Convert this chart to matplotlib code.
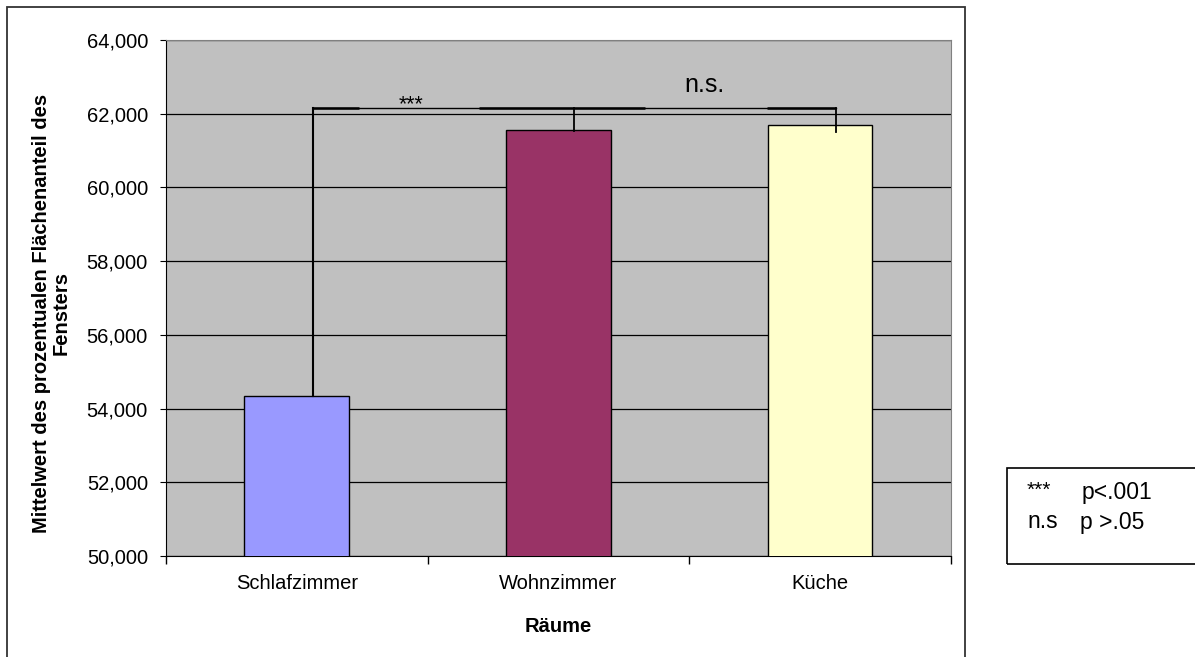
import matplotlib.pyplot as plt
from matplotlib.patches import Rectangle

plt.rcParams['font.family'] = ['Liberation Sans', 'DejaVu Sans']

# Data
rooms = ['Schlafzimmer', 'Wohnzimmer', 'Küche']
means = [54.35, 61.57, 61.70]
colors = ['#9999FF', '#993366', '#FFFFCC']
y_ticks = [50, 52, 54, 56, 58, 60, 62, 64]
y_tick_labels = ['50,000', '52,000', '54,000', '56,000', '58,000', '60,000', '62,000', '64,000']
bracket_y = 62.16

fig = plt.figure(figsize=(11.95, 6.57), dpi=100)
ax = fig.add_axes([0.1389, 0.1537, 0.6569, 0.7854])
ax.set_facecolor('#C0C0C0')

x = list(range(len(rooms)))
ax.bar(x, means, width=0.4, color=colors, edgecolor='black', linewidth=1, zorder=3)

ax.set_ylim(50, 64)
ax.set_xlim(-0.5, 2.5)
ax.set_yticks(y_ticks)
ax.set_yticklabels(y_tick_labels)
ax.yaxis.grid(True, color='black', linewidth=0.9, zorder=1)
ax.set_axisbelow(True)

# category boundaries as tick marks, labels centred between
ax.set_xticks([-0.5, 0.5, 1.5, 2.5])
ax.set_xticklabels([])
ax.set_xticks(x, minor=True)
ax.set_xticklabels(rooms, minor=True)
ax.tick_params(axis='x', which='major', length=6, direction='out', width=1)
ax.tick_params(axis='x', which='minor', length=0, pad=13, labelsize=14.5)
ax.tick_params(axis='y', length=4, direction='out', labelsize=14.5, pad=9)

for s in ['top', 'right']:
    ax.spines[s].set_color('#808080')
for s in ['left', 'bottom']:
    ax.spines[s].set_color('black')

ax.set_xlabel('Räume', fontsize=14.5, fontweight='bold', va='center')
ax.xaxis.set_label_coords(0.5, -0.1357)
ax.set_ylabel('Mittelwert des prozentualen Flächenanteil des\nFensters',
              fontsize=14.5, fontweight='bold', va='center', linespacing=1.05)
ax.yaxis.set_label_coords(-0.1465, 0.47)

# significance bracket
off = 0.06
ax.plot([x[0] + off, x[0] + off], [means[0], bracket_y], color='black', lw=1.5, zorder=4)
ax.plot([x[0] + off, x[2] + off], [bracket_y, bracket_y], color='black', lw=1.0, zorder=4)
for a, b in [(x[0] + off, 0.237), (0.698, 1.332), (1.798, x[2] + off)]:
    ax.plot([a, b], [bracket_y, bracket_y], color='black', lw=1.8, zorder=4,
            solid_capstyle='butt')
ax.plot([x[1] + off, x[1] + off], [bracket_y, means[1] - 0.05], color='black', lw=1.3, zorder=4)
ax.plot([x[2] + off, x[2] + off], [bracket_y, means[2] - 0.2], color='black', lw=1.3, zorder=4)
ax.text(0.435, 62.10, '***', fontsize=15.5, ha='center', va='baseline')
ax.text(1.557, 62.59, 'n.s.', fontsize=18, ha='center', va='baseline')

# outer chart frame
fig.patches.append(Rectangle((7 / 1195, -0.05), (965 - 7) / 1195, 1.05 - 7 / 657,
                             transform=fig.transFigure, fill=False,
                             edgecolor='#333333', linewidth=1.3))

# legend-like box
fig.patches.append(Rectangle((1007 / 1195, 1 - 564 / 657), 200 / 1195, 96 / 657,
                             transform=fig.transFigure, fill=False,
                             edgecolor='black', linewidth=1.2))
fig.text(1027 / 1195, 1 - 490 / 657, '***', fontsize=15, va='center')
fig.text(1082 / 1195, 1 - 493 / 657, 'p<.001', fontsize=16.5, va='center')
fig.text(1027 / 1195, 1 - 522 / 657, 'n.s', fontsize=16.5, va='center')
fig.text(1080 / 1195, 1 - 522 / 657, 'p >.05', fontsize=16.5, va='center')

plt.savefig('out.png', dpi=100)
